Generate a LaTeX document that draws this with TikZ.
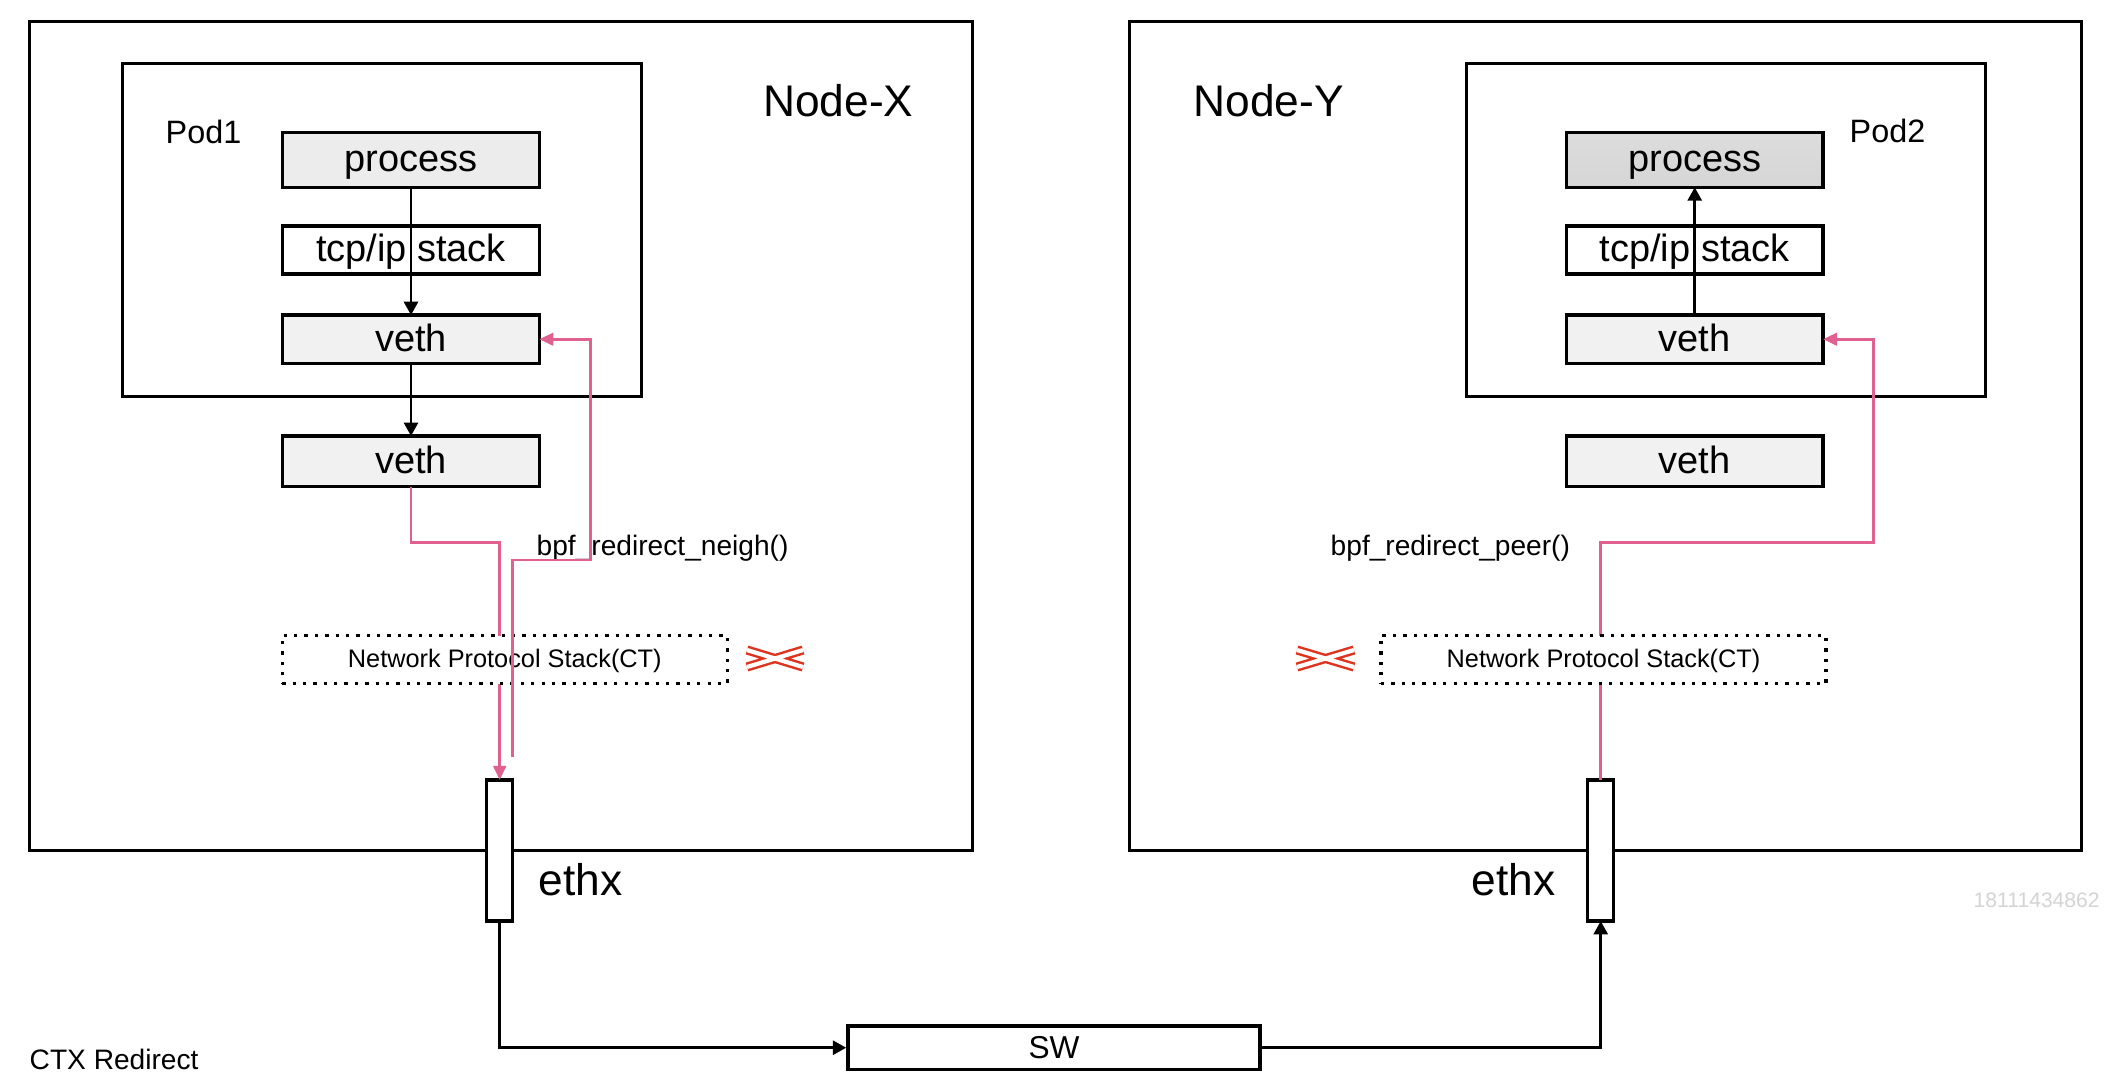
\documentclass[tikz,border=0pt]{standalone}
\usepackage{fontspec}
\setmainfont{Liberation Sans}
\usetikzlibrary{arrows.meta}
\definecolor{pinkc}{RGB}{224,96,144}
\definecolor{xred}{RGB}{222,52,30}
\definecolor{procLc}{RGB}{236,236,236}
\definecolor{procRc}{RGB}{214,214,214}
\definecolor{vethc}{RGB}{241,241,241}
\definecolor{wmc}{RGB}{212,212,212}
\begin{document}
\begin{tikzpicture}[x=0.01cm,y=-0.01cm,
  frame/.style={draw=black, line width=0.8pt, inner sep=0pt, outer sep=0pt},
  stackbox/.style={draw=black, line width=0.95pt, inner sep=0pt, outer sep=0pt,
    minimum width=2.566cm, text height=8.1pt, text depth=1.3pt, font=\fontsize{10.8}{12}\selectfont},
  nps/.style={draw=black, dotted, line width=0.95pt, fill=white, inner sep=0pt, outer sep=0pt,
    minimum width=4.45cm, minimum height=0.48cm, text height=5.4pt, text depth=1pt, font=\fontsize{7.2}{9}\selectfont},
  ethbox/.style={draw=black, line width=0.95pt, fill=white, inner sep=0pt, outer sep=0pt,
    minimum width=0.26cm, minimum height=1.41cm},
  bigtxt/.style={font=\fontsize{12.6}{14}\selectfont, inner sep=0pt, anchor=base west},
  podtxt/.style={font=\fontsize{9.2}{11}\selectfont, inner sep=0pt, anchor=base west},
  fntxt/.style={font=\fontsize{8}{10}\selectfont, inner sep=0pt, anchor=base west},
  blk/.style={draw=black, line width=0.75pt, -{Triangle[length=3.8pt,width=4pt]}},
  pinkarrow/.style={draw=pinkc, line width=0.75pt, -{Triangle[length=4pt,width=3.6pt]}},
  xmark/.style={draw=xred, line width=0.7pt, double=white, double distance=1.2pt}
]
\useasboundingbox[fill=white] (0,0) rectangle (2116,1090);

% outer frames
\node[frame, minimum width=9.42cm, minimum height=8.284cm] (nodeX) at (501,436) {};
\node[frame, minimum width=9.515cm, minimum height=8.284cm] (nodeY) at (1605.3,436) {};
\node[frame, minimum width=5.187cm, minimum height=3.333cm] (pod1) at (382.2,230) {};
\node[frame, minimum width=5.18cm, minimum height=3.333cm] (pod2) at (1726,230) {};

% labels
\node[bigtxt] (lblX) at (762.5,116.7) {Node-X};
\node[bigtxt] (lblY) at (1193,116.7) {Node-Y};
\node[podtxt] (lblP1) at (165,143) {Pod1};
\node[podtxt] (lblP2) at (1849,142.7) {Pod2};

% left stack
\node[stackbox, fill=procLc, minimum height=0.55cm] (procL) at (411,159.8) {process};
\node[stackbox, fill=white, minimum height=0.48cm] (tcpL) at (411,250) {tcp/ip stack};
\node[stackbox, fill=vethc, minimum height=0.483cm] (vethL) at (411,339.2) {veth};
\node[stackbox, fill=vethc, minimum height=0.507cm] (vethbL) at (411,461.3) {veth};

% right stack
\node[stackbox, top color=procRc!85!white, bottom color=procRc, minimum height=0.55cm] (procR) at (1694.7,159.8) {process};
\node[stackbox, fill=white, minimum height=0.48cm] (tcpR) at (1694.7,250) {tcp/ip stack};
\node[stackbox, fill=vethc, minimum height=0.483cm] (vethR) at (1694.7,339.2) {veth};
\node[stackbox, fill=vethc, minimum height=0.507cm] (vethbR) at (1694.7,461.3) {veth};

% black arrows inside nodes
\draw[blk] (procL.south) -- (vethL.north);
\draw[blk] (vethL.south) -- (vethbL.north);
\draw[blk] (vethR.north) -- (procR.south);

% function labels
\node[fntxt] (fnL) at (536,555) {bpf\_redirect\_neigh()};
\node[fntxt] (fnR) at (1330,555) {bpf\_redirect\_peer()};

% ethx devices
\node[ethbox] (ethL) at (499.7,850.5) {};
\node[ethbox] (ethR) at (1600.7,850.5) {};
\node[bigtxt] (ethLt) at (538,895) {ethx};
\node[bigtxt] (ethRt) at (1471,895) {ethx};

% pink path 1 (behind protocol stack box)
\draw[pinkarrow] (vethbL.south) -- ++(0,56) -| (ethL.north);
% pink path right (behind box)
\coordinate (p3m) at (1873.3,542.5);
\draw[pinkarrow] (ethR.north) |- (p3m) |- (vethR.east);

% protocol stack boxes
\node[nps] (npsL) at (504.8,659.5) {Network Protocol Stack(CT)};
\node[nps] (npsR) at (1603.5,659.5) {Network Protocol Stack(CT)};

% pink path 2 (on top)
\coordinate (p2s) at (512.7,757);
\coordinate (p2m) at (590.5,560);
\draw[pinkarrow] (p2s) |- (p2m) |- (vethL.east);

% red crossing marks
\draw[xmark] (747,650) -- (803,667) (747,667) -- (803,650);
\draw[xmark] (1297,650) -- (1354,667) (1297,667) -- (1354,650);

% switch
\node[draw=black, line width=0.95pt, fill=white, inner sep=0pt, minimum width=4.12cm, minimum height=0.435cm,
  font=\fontsize{9}{11}\selectfont] (sw) at (1054,1047.7) {SW};
\draw[blk] (ethL.south) |- (sw.west);
\draw[blk] (sw.east) -| (ethR.south);

% caption and watermark
\node[fntxt] (ctx) at (29,1069) {CTX Redirect};
\node[font=\fontsize{6}{7}\selectfont, text=wmc, inner sep=0pt, anchor=base west] (wm) at (1973,907) {18111434862};
\end{tikzpicture}
\end{document}
